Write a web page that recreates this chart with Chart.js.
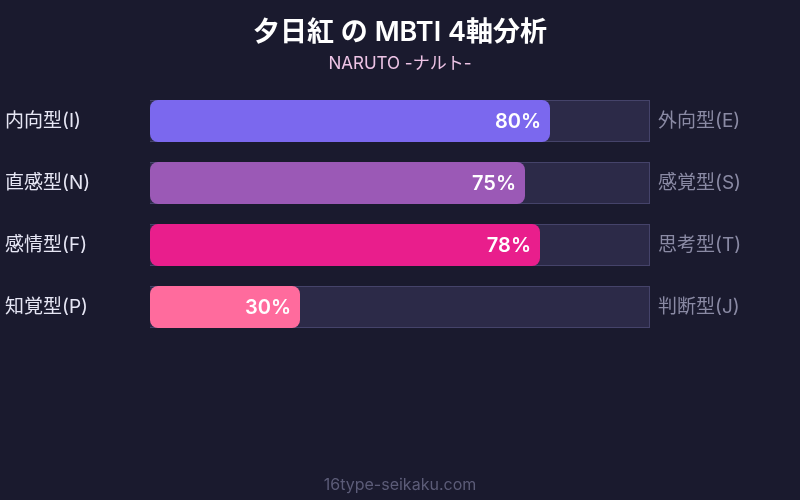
<!DOCTYPE html>
<html><head><meta charset="utf-8">
<script src="https://cdn.jsdelivr.net/npm/chart.js@4"></script>
<style>html,body{margin:0;padding:0;background:#1a1a2e;}#wrap{width:800px;height:500px;}</style>
</head><body><div id="wrap"><canvas id="c"></canvas></div>
<script>
const leftLabels = ["内向型(I)", "直感型(N)", "感情型(F)", "知覚型(P)"];
const rightLabels = ["外向型(E)", "感覚型(S)", "思考型(T)", "判断型(J)"];
const values = [80, 75, 78, 30];
const trackValues = [100, 100, 100, 100];
const barColors = ["#7b68ee", "#9b59b6", "#e91e8c", "#ff6b9d"];
const titleText = "夕日紅 の MBTI 4軸分析";
const subtitleText = "NARUTO -ナルト-";
const footerText = "16type-seikaku.com";

const FONT = "Inter, 'Noto Sans CJK JP', sans-serif";

const textPlugin = {
  id: 'texts',
  afterDatasetsDraw(chart) {
    const ctx = chart.ctx;
    const meta = chart.getDatasetMeta(0);
    ctx.save();
    ctx.fillStyle = '#ffffff';
    ctx.font = "600 20px " + FONT;
    ctx.textAlign = 'right';
    ctx.textBaseline = 'middle';
    meta.data.forEach((bar, i) => {
      ctx.fillText(values[i] + '%', bar.x - 9, bar.y + 1);
    });
    ctx.restore();
  },
  afterDraw(chart) {
    const ctx = chart.ctx;
    ctx.save();
    ctx.textAlign = 'center';
    ctx.textBaseline = 'middle';
    ctx.fillStyle = '#ffffff';
    ctx.font = "600 27px " + FONT;
    ctx.fillText(titleText, 400, 33);
    ctx.fillStyle = '#eec4e6';
    ctx.font = "17px " + FONT;
    ctx.fillText(subtitleText, 400, 64);
    ctx.fillStyle = '#5c5c78';
    ctx.font = "16px " + FONT;
    ctx.fillText(footerText, 400, 485);
    ctx.restore();
  }
};

new Chart(document.getElementById('c'), {
  type: 'bar',
  data: {
    labels: leftLabels,
    datasets: [
      { data: values, backgroundColor: barColors, borderRadius: 8, borderSkipped: false, borderWidth: 0 },
      { data: trackValues, backgroundColor: '#2c2a48', borderColor: '#45436a', borderWidth: 1, borderRadius: 0 }
    ]
  },
  options: {
    indexAxis: 'y',
    responsive: true,
    maintainAspectRatio: false,
    animation: false,
    layout: { padding: { top: 90, bottom: 162, left: 5, right: 0 } },
    datasets: { bar: { grouped: false, barPercentage: 0.68, categoryPercentage: 1 } },
    plugins: { legend: { display: false }, tooltip: { enabled: false } },
    scales: {
      x: { min: 0, max: 100, display: false },
      y: {
        position: 'left',
        grid: { display: false }, border: { display: false },
        ticks: { color: '#e6e6f4', font: { size: 19, family: FONT }, crossAlign: 'far', padding: 0 },
        afterFit(s) { s.width = 145; }
      },
      y2: {
        type: 'category', labels: rightLabels, position: 'right', offset: true,
        grid: { display: false }, border: { display: false },
        ticks: { color: '#8a8aa4', font: { size: 19, family: FONT }, crossAlign: 'near', padding: 0 },
        afterFit(s) { s.width = 150; }
      }
    }
  },
  plugins: [textPlugin]
});
</script></body></html>
